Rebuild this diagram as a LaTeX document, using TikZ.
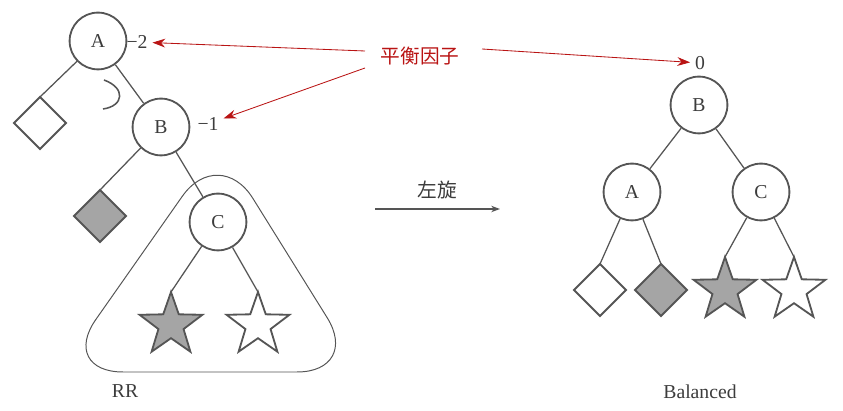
\documentclass[tikz,border=0pt]{standalone}
\usepackage{fontspec}
\setmainfont{Liberation Serif}
\newfontfamily\cjk{Noto Sans CJK SC}
\usepackage{tikz}
\usetikzlibrary{shapes.geometric,arrows.meta}
\definecolor{linec}{RGB}{85,85,85}
\definecolor{textc}{RGB}{60,60,60}
\definecolor{shadec}{RGB}{165,165,165}
\definecolor{hred}{RGB}{185,20,20}
\tikzstyle{tnode} =[
    draw=linec,
    line width=1.3pt,
    circle,
    fill=white,
    text=textc,
    minimum size=1.42cm,
    inner sep=0pt,
    font=\fontsize{14}{16}\selectfont
    ]
\tikzstyle{leafbox} =[
    draw=linec,
    line width=1.3pt,
    diamond,
    minimum size=1.3cm,
    inner sep=0pt,
    outer sep=0pt
    ]
\tikzstyle{leafstar} =[
    draw=linec,
    line width=1.3pt,
    star,
    star points=5,
    star point ratio=2.5,
    minimum size=1.65cm,
    inner sep=0pt,
    outer sep=0pt
    ]
\tikzstyle{edge} =[draw=linec, line width=0.9pt]
\tikzstyle{factor} =[hred, line width=0.6pt, -{Stealth[length=3.2mm,width=2.2mm]}]
\tikzstyle{bf} =[text=textc, font=\fontsize{14}{16}\selectfont]

\begin{document}
\begin{tikzpicture}[x=0.025cm, y=-0.025cm]
\useasboundingbox (0,0) rectangle (843,411);

% RR case
\draw[linec, line width=0.7pt, rounded corners=1.6cm]
    (219,144) -- (59,372) -- (361,372) -- cycle;
\node[tnode] (la) at (98,41) {A};
\node[tnode] (lb) at (161,127) {B};
\node[tnode] (lc) at (218,222) {C};
\node[leafbox, fill=white] (ld1) at (40,123) {};
\node[leafbox, fill=shadec] (ld2) at (100,216) {};
\node[leafstar, fill=shadec] (ls1) at (171,325) {};
\node[leafstar, fill=white] (ls2) at (258,325) {};
\draw[edge] (la) -- (ld1.north);
\draw[edge] (la) -- (lb);
\draw[edge] (lb) -- (ld2.north);
\draw[edge] (lb) -- (lc);
\draw[edge] (lc) -- (ls1.north);
\draw[edge] (lc) -- (ls2.north);
\draw[linec, line width=1.1pt] (104,80) .. controls (126,88) and (124,106) .. (103,109);
\node[bf] (m2) at (137,42) {−2};
\node[bf] (m1) at (208,124) {−1};
\node[bf] (rrname) at (125,391) {RR};

% rotation
\coordinate (rot0) at (375,209);
\coordinate (rot1) at (500,209);
\draw[linec, line width=0.9pt, -{Stealth[length=2.2mm,width=1.6mm]}] (rot0) -- node[above=3pt, text=textc, font=\cjk\fontsize{14}{16}\selectfont] (turn) {左旋} (rot1);

% balanced
\node[tnode] (rb) at (699,105) {B};
\node[tnode] (ra) at (632,192) {A};
\node[tnode] (rc) at (761,192) {C};
\node[leafbox, fill=white] (rd1) at (600,290) {};
\node[leafbox, fill=shadec] (rd2) at (661,290) {};
\node[leafstar, fill=shadec] (rs1) at (725,290) {};
\node[leafstar, fill=white] (rs2) at (794,290) {};
\draw[edge] (rb) -- (ra);
\draw[edge] (rb) -- (rc);
\draw[edge] (ra) -- (rd1.north);
\draw[edge] (ra) -- (rd2.north);
\draw[edge] (rc) -- (rs1.north);
\draw[edge] (rc) -- (rs2.north);
\node[bf] (z0) at (700,63) {0};
\node[bf] (balname) at (700,392) {Balanced};

% balance factor
\node[text=hred, font=\cjk\fontsize{14}{16}\selectfont] (fac) at (420,56) {平衡因子};
\coordinate (f2) at (365,51);
\coordinate (f1) at (365,68);
\coordinate (f0) at (482,49);
\draw[factor] (f2) -- (m2);
\draw[factor] (f1) -- (m1);
\draw[factor] (f0) -- (z0);
\end{tikzpicture}
\end{document}
